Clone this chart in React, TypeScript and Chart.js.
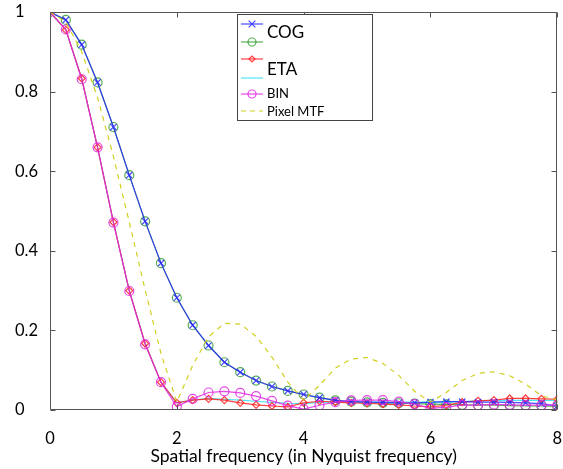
import React, { useEffect, useRef } from 'react';
import { Chart, registerables } from 'chart.js';

Chart.register(...registerables);

const freq = [0, 0.25, 0.5, 0.75, 1, 1.25, 1.5, 1.75, 2, 2.25, 2.5, 2.75, 3, 3.25, 3.5, 3.75, 4, 4.25, 4.5, 4.75, 5, 5.25, 5.5, 5.75, 6, 6.25, 6.5, 6.75, 7, 7.25, 7.5, 7.75, 8];

const cog = [1.0, 0.98, 0.918, 0.823, 0.711, 0.59, 0.474, 0.369, 0.282, 0.213, 0.162, 0.12, 0.095, 0.074, 0.059, 0.048, 0.039, 0.031, 0.024, 0.021, 0.02, 0.019, 0.018, 0.018, 0.02, 0.021, 0.021, 0.02, 0.02, 0.019, 0.018, 0.016, 0.01];
const cogAlt = [1.0, 0.98, 0.918, 0.823, 0.711, 0.59, 0.474, 0.369, 0.282, 0.213, 0.162, 0.12, 0.095, 0.074, 0.059, 0.048, 0.039, 0.031, 0.024, 0.021, 0.019, 0.018, 0.017, 0.016, 0.015, 0.014, 0.013, 0.012, 0.012, 0.011, 0.01, 0.01, 0.009];
const eta = [1.0, 0.955, 0.833, 0.66, 0.472, 0.3, 0.167, 0.07, 0.018, 0.025, 0.028, 0.025, 0.018, 0.013, 0.01, 0.008, 0.018, 0.022, 0.02, 0.018, 0.017, 0.015, 0.013, 0.01, 0.008, 0.012, 0.02, 0.023, 0.025, 0.029, 0.029, 0.028, 0.027];
const etaAlt = [1.0, 0.955, 0.833, 0.66, 0.472, 0.3, 0.167, 0.07, 0.018, 0.025, 0.029, 0.027, 0.025, 0.022, 0.019, 0.017, 0.016, 0.019, 0.02, 0.02, 0.02, 0.02, 0.02, 0.02, 0.019, 0.02, 0.021, 0.023, 0.024, 0.024, 0.024, 0.024, 0.024];
const bin = [1.0, 0.956, 0.831, 0.66, 0.471, 0.299, 0.165, 0.07, 0.008, 0.028, 0.044, 0.047, 0.043, 0.035, 0.023, 0.011, 0.002, 0.012, 0.02, 0.024, 0.025, 0.025, 0.021, 0.015, 0.004, 0.007, 0.012, 0.012, 0.014, 0.013, 0.012, 0.012, 0.012];
const pixelMtf = [1.0, 0.975, 0.9, 0.785, 0.637, 0.472, 0.302, 0.142, 0.02, 0.112, 0.184, 0.218, 0.216, 0.185, 0.133, 0.07, 0.025, 0.062, 0.105, 0.128, 0.132, 0.117, 0.087, 0.047, 0.02, 0.044, 0.074, 0.092, 0.096, 0.086, 0.065, 0.036, 0.025];

const xTicks = [0, 2, 4, 6, 8];
const yTicks = [0, 0.2, 0.4, 0.6, 0.8, 1];
const xTitle = 'Spatial frequency (in Nyquist frequency)';

const FONT = 'Lato, "Open Sans", sans-serif';

const toPts = (ys: number[]) => freq.map((x, i) => ({ x, y: ys[i] }));

const BLUE = 'rgba(40,40,255,0.85)';
const GREEN = 'rgba(30,150,30,0.75)';
const RED = 'rgba(255,30,30,0.85)';
const CYAN = 'rgba(60,225,235,0.9)';
const MAGENTA = 'rgba(225,40,225,0.85)';
const OLIVE = 'rgba(205,205,20,0.95)';

const framePlugin = {
  id: 'frame',
  afterDraw(chart: any) {
    const { ctx, chartArea } = chart;
    const xs = chart.scales.x;
    const ys = chart.scales.y;
    const l = Math.round(chartArea.left) + 0.5;
    const r = Math.round(chartArea.right) - 0.5;
    const t = Math.round(chartArea.top) + 0.5;
    const b = Math.round(chartArea.bottom) - 0.5;
    ctx.save();
    ctx.strokeStyle = '#555';
    ctx.lineWidth = 1;
    ctx.beginPath();
    ctx.rect(l, t, r - l, b - t);
    const len = 5;
    xTicks.forEach((v) => {
      const px = Math.round(xs.getPixelForValue(v)) + 0.5;
      ctx.moveTo(px, b);
      ctx.lineTo(px, b - len);
      ctx.moveTo(px, t);
      ctx.lineTo(px, t + len);
    });
    yTicks.forEach((v) => {
      const py = Math.round(ys.getPixelForValue(v)) + 0.5;
      ctx.moveTo(l, py);
      ctx.lineTo(l + len, py);
      ctx.moveTo(r, py);
      ctx.lineTo(r - len, py);
    });
    ctx.stroke();
    ctx.restore();
  },
};

function marker(ctx: CanvasRenderingContext2D, kind: string, x: number, y: number, r: number) {
  ctx.beginPath();
  if (kind === 'cross') {
    const d = r * 0.75;
    ctx.moveTo(x - d, y - d);
    ctx.lineTo(x + d, y + d);
    ctx.moveTo(x + d, y - d);
    ctx.lineTo(x - d, y + d);
  } else if (kind === 'circle') {
    ctx.arc(x, y, r, 0, Math.PI * 2);
  } else if (kind === 'diamond') {
    ctx.moveTo(x, y - r);
    ctx.lineTo(x + r, y);
    ctx.lineTo(x, y + r);
    ctx.lineTo(x - r, y);
    ctx.closePath();
  }
  ctx.stroke();
}

const legendRows = [
  { y: 24, color: BLUE, kind: 'cross', r: 4.5, dash: [] as number[] },
  { y: 42, color: GREEN, kind: 'circle', r: 4, dash: [] as number[] },
  { y: 59, color: RED, kind: 'diamond', r: 3, dash: [] as number[] },
  { y: 78, color: CYAN, kind: 'none', r: 0, dash: [] as number[] },
  { y: 94, color: MAGENTA, kind: 'circle', r: 4, dash: [] as number[] },
  { y: 111, color: OLIVE, kind: 'none', r: 0, dash: [5, 4] },
];

const legendTexts = [
  { text: 'COG', y: 33, size: 17 },
  { text: 'ETA', y: 70, size: 17 },
  { text: 'BIN', y: 94, size: 13 },
  { text: 'Pixel MTF', y: 112, size: 13 },
];

const legendPlugin = {
  id: 'customLegend',
  afterDraw(chart: any) {
    const { ctx } = chart;
    ctx.save();
    ctx.fillStyle = '#fff';
    ctx.fillRect(237.5, 14.5, 135, 106);
    ctx.strokeStyle = '#444';
    ctx.lineWidth = 1;
    ctx.strokeRect(237.5, 14.5, 135, 106);
    legendRows.forEach((row) => {
      ctx.strokeStyle = row.color;
      ctx.lineWidth = 1.2;
      ctx.setLineDash(row.dash);
      ctx.beginPath();
      ctx.moveTo(241, row.y);
      ctx.lineTo(263, row.y);
      ctx.stroke();
      ctx.setLineDash([]);
      if (row.kind !== 'none') marker(ctx, row.kind, 252, row.y, row.r);
    });
    ctx.fillStyle = '#000';
    ctx.textBaseline = 'middle';
    ctx.textAlign = 'left';
    legendTexts.forEach((t) => {
      ctx.font = `${t.size}px ${FONT}`;
      ctx.fillText(t.text, 267, t.y);
    });
    ctx.restore();
  },
};

export default function App() {
  const ref = useRef<HTMLCanvasElement>(null);
  useEffect(() => {
    if (!ref.current) return;
    const chart = new Chart(ref.current, {
      type: 'line',
      data: {
        datasets: [
          {
            label: 'COG',
            data: toPts(cog),
            borderColor: BLUE,
            borderWidth: 1.2,
            pointStyle: 'crossRot',
            pointRadius: 4.5,
            pointBorderColor: BLUE,
            pointBorderWidth: 1.2,
            pointBackgroundColor: 'transparent',
            order: 3,
          },
          {
            label: 'COG (alt)',
            data: toPts(cogAlt),
            borderColor: GREEN,
            borderWidth: 1.2,
            pointStyle: 'circle',
            pointRadius: 4.5,
            pointBorderColor: GREEN,
            pointBorderWidth: 1.2,
            pointBackgroundColor: 'transparent',
            order: 6,
          },
          {
            label: 'ETA',
            data: toPts(eta),
            borderColor: RED,
            borderWidth: 1.2,
            pointStyle: 'rectRot',
            pointRadius: 3.5,
            pointBorderColor: RED,
            pointBorderWidth: 1.2,
            pointBackgroundColor: 'transparent',
            order: 4,
          },
          {
            label: 'ETA (alt)',
            data: toPts(etaAlt),
            borderColor: CYAN,
            borderWidth: 1.2,
            pointRadius: 0,
            order: 5,
          },
          {
            label: 'BIN',
            data: toPts(bin),
            borderColor: MAGENTA,
            borderWidth: 1.2,
            pointStyle: 'circle',
            pointRadius: 4.5,
            pointBorderColor: MAGENTA,
            pointBorderWidth: 1.2,
            pointBackgroundColor: 'transparent',
            order: 2,
          },
          {
            label: 'Pixel MTF',
            data: toPts(pixelMtf),
            borderColor: OLIVE,
            borderWidth: 1.2,
            borderDash: [5, 5],
            pointRadius: 0,
            order: 1,
          },
        ],
      },
      options: {
        animation: false,
        responsive: false,
        maintainAspectRatio: false,
        layout: { padding: { left: 15, top: 12, right: 5, bottom: 0 } },
        plugins: { legend: { display: false }, tooltip: { enabled: false } },
        scales: {
          x: {
            type: 'linear',
            min: 0,
            max: 8,
            afterBuildTicks: (s: any) => {
              s.ticks = xTicks.map((v) => ({ value: v }));
            },
            ticks: {
              color: '#000',
              font: { family: FONT, size: 16.5 },
              padding: 19,
              maxRotation: 0,
              callback: (v: any) => String(v),
            },
            grid: { display: false, drawTicks: false },
            border: { display: false },
            title: {
              display: true,
              text: xTitle,
              color: '#000',
              font: { family: FONT, size: 17.5 },
              padding: { top: 0, bottom: 2 },
            },
            afterFit: (s: any) => {
              s.height = 59;
              s.paddingLeft = 0;
              s.paddingRight = 0;
            },
          },
          y: {
            min: 0,
            max: 1,
            afterBuildTicks: (s: any) => {
              s.ticks = yTicks.map((v) => ({ value: v }));
            },
            ticks: {
              color: '#000',
              font: { family: FONT, size: 16.5 },
              crossAlign: 'far',
              padding: 0,
              callback: (v: any) => String(Math.round(Number(v) * 10) / 10),
            },
            grid: { display: false, drawTicks: false },
            border: { display: false },
            afterFit: (s: any) => {
              s.width = 35;
              s.paddingTop = 0;
              s.paddingBottom = 0;
            },
          },
        },
      },
      plugins: [framePlugin, legendPlugin],
    } as any);
    return () => chart.destroy();
  }, []);
  return (
    <div style={{ position: 'fixed', left: 0, top: 0, width: 563, height: 469, background: '#fff' }}>
      <canvas ref={ref} width={563} height={469} style={{ display: 'block', width: 563, height: 469 }} />
    </div>
  );
}
